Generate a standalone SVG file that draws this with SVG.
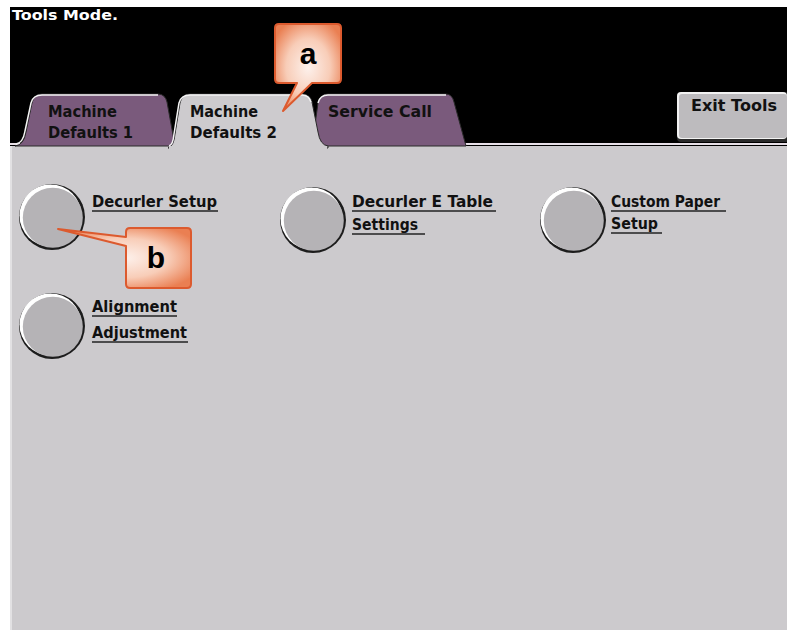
<svg xmlns="http://www.w3.org/2000/svg" width="787" height="630" viewBox="0 0 787 630">
<defs>
<style>
.ui{font-family:"DejaVu Sans","Liberation Sans",sans-serif;font-weight:bold;font-size:15px;fill:#111}
.tab{fill:#7a5a7c;stroke:#2a2a2a;stroke-width:1}
.hl{fill:none;stroke:#f4f4f4;stroke-width:1.5}
.ul{stroke:#222;stroke-width:1.5}
.co{fill:url(#cg);stroke:#dc5a2e;stroke-width:2;stroke-linejoin:round}
.cl{font-family:"Liberation Sans",Arial,sans-serif;font-weight:bold;font-size:30px;fill:#000;text-anchor:middle}
</style>
<radialGradient id="cg" cx="0.5" cy="0.5" r="0.6">
<stop offset="0" stop-color="#fdf1ec"/>
<stop offset="0.55" stop-color="#f8cdb8"/>
<stop offset="1" stop-color="#ea7f52"/>
</radialGradient>
<g id="btn">
<circle cx="0" cy="0" r="33" fill="#1c1c1c"/>
<circle cx="-1.5" cy="-1.5" r="31" fill="#ffffff"/>
<circle cx="0.8" cy="0.8" r="30" fill="#b5b3b6"/>
</g>
</defs>
<rect x="0" y="0" width="787" height="630" fill="#ffffff"/>
<rect x="10" y="7" width="777" height="140" fill="#000000"/>
<rect x="10" y="143" width="777" height="2" fill="#e8e0e8"/>
<rect x="10" y="146" width="777" height="484" fill="#cccacd"/>
<rect x="10" y="146" width="2" height="484" fill="#e2e1e3"/>
<text x="12" y="20" class="ui" style="fill:#fff;font-size:14px" textLength="106" lengthAdjust="spacingAndGlyphs">Tools Mode.</text>

<g id="tab-machine-defaults-1">
<path class="tab" d="M15,146 Q24,145 26,132 L32,103 Q34,94 42,94 L158,94 Q165,94 167,102 L175,146 Z"/>
<path class="hl" d="M16,144 Q23,143 25,131 L31,103 Q33,95 42,95 L158,95"/>
<text x="48" y="117" class="ui" textLength="69" lengthAdjust="spacingAndGlyphs">Machine</text>
<text x="48" y="138" class="ui" textLength="85" lengthAdjust="spacingAndGlyphs">Defaults 1</text>
</g>

<g id="tab-service-call">
<path class="tab" d="M312,146 L318,103 Q320,94 328,94 L446,94 Q452,94 454,102 L466,146 Z"/>
<path class="hl" d="M318,103 Q320,95 328,95 L446,95"/>
<text x="328" y="117" class="ui" textLength="104" lengthAdjust="spacingAndGlyphs">Service Call</text>
</g>

<g id="tab-machine-defaults-2">
<path d="M168,148 Q174,146 175,134 L180,103 Q182,94 190,94 L302,94 Q310,94 312,102 L318,132 Q320,145 328,146 L328,148 Z" fill="#cdcbce" stroke="#2a2a2a" stroke-width="1"/>
<path class="hl" d="M169,146 Q173,145 174,134 L179,103 Q181,95 190,95 L302,95 Q309,95 311,102"/>
<rect x="169" y="146" width="158" height="4" fill="#cdcbce"/>
<text x="190" y="117" class="ui" textLength="68" lengthAdjust="spacingAndGlyphs">Machine</text>
<text x="190" y="138" class="ui" textLength="87" lengthAdjust="spacingAndGlyphs">Defaults 2</text>
</g>

<g id="exit-tools">
<rect x="677" y="92" width="112" height="50" rx="4" fill="#2a2a2a"/>
<rect x="677" y="92" width="110" height="47" rx="4" fill="#f2f2f2"/>
<rect x="679" y="94" width="108" height="44" rx="3" fill="#bdbbbe"/>
<text x="691" y="111" class="ui" textLength="86" lengthAdjust="spacingAndGlyphs">Exit Tools</text>
</g>

<g id="decurler-setup">
<use href="#btn" x="52" y="217"/>
<text x="92" y="207" class="ui" textLength="125" lengthAdjust="spacingAndGlyphs">Decurler Setup</text>
<line class="ul" x1="92" y1="211" x2="218" y2="211"/>
</g>

<g id="decurler-e-table-settings">
<use href="#btn" x="313" y="220"/>
<text x="352" y="207" class="ui" textLength="141" lengthAdjust="spacingAndGlyphs">Decurler E Table</text>
<line class="ul" x1="352" y1="211" x2="496" y2="211"/>
<text x="352" y="230" class="ui" textLength="66" lengthAdjust="spacingAndGlyphs">Settings</text>
<line class="ul" x1="352" y1="234" x2="425" y2="234"/>
</g>

<g id="custom-paper-setup">
<use href="#btn" x="573" y="220"/>
<text x="611" y="207" class="ui" textLength="109" lengthAdjust="spacingAndGlyphs">Custom Paper</text>
<line class="ul" x1="611" y1="211" x2="726" y2="211"/>
<text x="611" y="229" class="ui" textLength="47" lengthAdjust="spacingAndGlyphs">Setup</text>
<line class="ul" x1="611" y1="233" x2="662" y2="233"/>
</g>

<g id="alignment-adjustment">
<use href="#btn" x="52" y="326"/>
<text x="92" y="312" class="ui" textLength="85" lengthAdjust="spacingAndGlyphs">Alignment</text>
<line class="ul" x1="92" y1="316" x2="177" y2="316"/>
<text x="92" y="338" class="ui" textLength="95" lengthAdjust="spacingAndGlyphs">Adjustment</text>
<line class="ul" x1="92" y1="342" x2="188" y2="342"/>
</g>

<g id="connectors">
<g id="callout-a">
<path class="co" d="M279,24 L337,24 Q341,24 341,28 L341,79 Q341,83 337,83 L312,83 L283,111 L297,83 L279,83 Q275,83 275,79 L275,28 Q275,24 279,24 Z"/>
<text x="308" y="64" class="cl">a</text>
</g>
<g id="callout-b">
<path class="co" d="M130,228 L187,228 Q191,228 191,232 L191,284 Q191,288 187,288 L130,288 Q126,288 126,284 L126,246 L58,229 L126,237 L126,232 Q126,228 130,228 Z"/>
<text x="156" y="268" class="cl">b</text>
</g>
</g>
</svg>
